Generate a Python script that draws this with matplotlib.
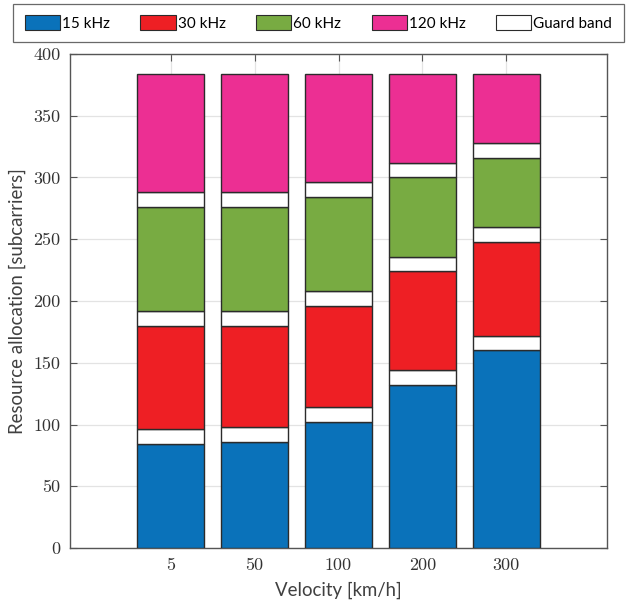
import numpy as np
import matplotlib
matplotlib.use("Agg")
import matplotlib.pyplot as plt
from matplotlib.patches import Patch

# data
velocity = ['5', '50', '100', '200', '300']
khz15 = [84, 86, 102, 132, 160]
khz30 = [84, 82, 82, 80, 76]
khz60 = [84, 84, 76, 64, 56]
khz120 = [96, 96, 88, 72, 56]
guard = [12, 12, 12, 12, 12]

warna = {'15': '#0a72ba', '30': '#ee1f24', '60': '#78ab42', '120': '#ec2f93', 'g': '#ffffff'}
garis = '#2b2b2b'
label_color = '#404040'
sans = ['Lato', 'DejaVu Sans']

fig = plt.figure(figsize=(6.26, 6.08), dpi=100)
ax = fig.add_axes([70/626, 60/608, 537/626, 494/608])

x = np.arange(1, len(velocity) + 1)
lebar = 0.8

# urutan tumpukan dari bawah
tumpukan = [(khz15, warna['15']), (guard, warna['g']),
            (khz30, warna['30']), (guard, warna['g']),
            (khz60, warna['60']), (guard, warna['g']),
            (khz120, warna['120'])]
dasar = np.zeros(len(x))
for nilai, c in tumpukan:
    ax.bar(x, nilai, lebar, bottom=dasar, color=c, edgecolor=garis, linewidth=1, zorder=3)
    dasar = dasar + np.array(nilai)

ax.set_xlim(-0.2, 6.2)
ax.set_ylim(0, 400)
ax.set_xticks(x)
ax.set_xticklabels(velocity)
ax.set_yticks(np.arange(0, 401, 50))
ax.grid(True, color='#e3e3e3', linewidth=0.9, zorder=0)
ax.set_axisbelow(True)

ax.tick_params(direction='in', length=5, width=0.8, color='#555555',
               top=True, right=True, labelsize=13, labelcolor='#333333', pad=7)
for lab in ax.get_xticklabels() + ax.get_yticklabels():
    lab.set_fontfamily('cmr10')
for s in ax.spines.values():
    s.set_color('#555555')
    s.set_linewidth(1.0)

ax.set_xlabel('Velocity [km/h]', fontsize=13.4, color=label_color, family=sans, labelpad=6)
ax.set_ylabel('Resource allocation [subcarriers]', fontsize=13.4, color=label_color, family=sans, labelpad=5)

handles = [Patch(facecolor=warna[k], edgecolor=garis, linewidth=0.8) for k in ['15', '30', '60', '120', 'g']]
labels = ['15 kHz', '30 kHz', '60 kHz', '120 kHz', 'Guard band']
leg = fig.legend(handles, labels, loc='upper center', bbox_to_anchor=(318.5/626, 1 - 4/608), ncol=5,
                 frameon=True, fancybox=False, edgecolor='#444444', handlelength=2.3, handleheight=1.1,
                 handletextpad=0.13, columnspacing=2.0, borderpad=0.75, borderaxespad=0,
                 prop={'family': sans, 'size': 11})
leg.get_frame().set_linewidth(0.9)

fig.savefig('out.png', dpi=100)
